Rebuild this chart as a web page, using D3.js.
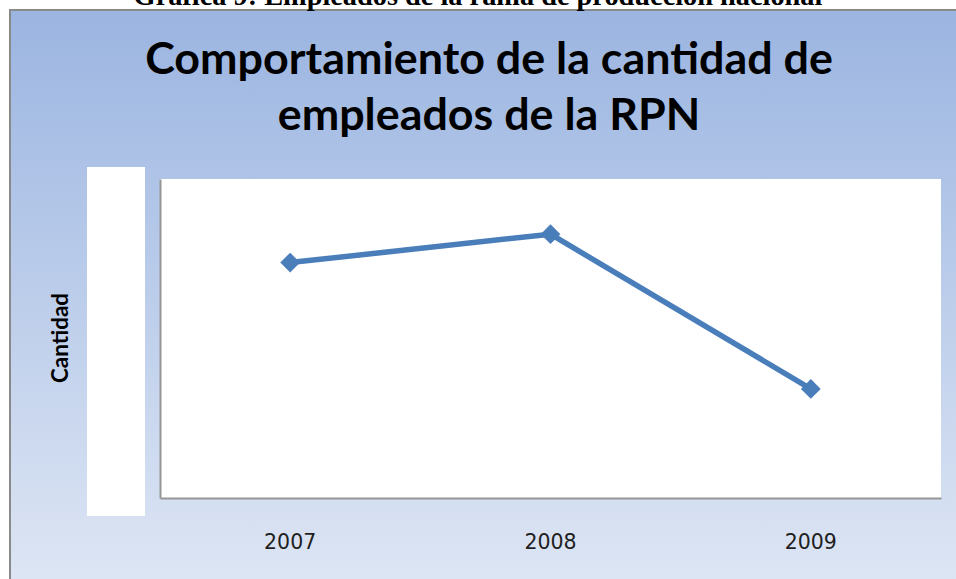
<!DOCTYPE html>
<html lang="es">
<head>
<meta charset="UTF-8">
<title>Comportamiento de la cantidad de empleados de la RPN</title>
<script src="https://cdn.jsdelivr.net/npm/d3@7"></script>
<style>
  html, body { margin: 0; padding: 0; background: #fff; overflow: hidden; }
  svg { display: block; }
</style>
</head>
<body>
<div id="root"></div>
<script>
var width = 956
var height = 579

// datos (el eje y no tiene etiquetas, valores estimados)
var years = ['2007', '2008', '2009']
var empleados = [738, 827, 342]
var yDomain = [0, 1000]

var caption = 'Gráfica 9: Empleados de la rama de producción nacional'
var titleLines = ['Comportamiento de la cantidad de', 'empleados de la RPN']
var yLabel = 'Cantidad'

var svg = d3.select('#root')
    .append('svg')
    .attr('width', width)
    .attr('height', height)

// fondo degradado del area del grafico
var defs = svg.append('defs')
var grad = defs.append('linearGradient')
    .attr('id', 'bg')
    .attr('x1', 0).attr('y1', 0)
    .attr('x2', 0).attr('y2', 1)
grad.append('stop').attr('offset', '0%').attr('stop-color', '#9bb5e1')
grad.append('stop').attr('offset', '100%').attr('stop-color', '#dee6f4')

svg.append('rect')
    .attr('x', 10).attr('y', 10)
    .attr('width', width).attr('height', height)
    .attr('fill', 'url(#bg)')
    .attr('stroke', '#8a8a8a')
    .attr('stroke-width', 2)

// fit a text to a target width by changing its font size
function fit(sel, target) {
    var w = sel.node().getComputedTextLength()
    var fs = parseFloat(sel.attr('font-size'))
    sel.attr('font-size', fs * target / w)
}

// pie de grafica (cortado arriba, como en la imagen)
var cap = svg.append('text')
    .attr('x', 478).attr('y', 5)
    .attr('text-anchor', 'middle')
    .attr('font-family', 'Liberation Serif, Times New Roman, serif')
    .attr('font-weight', 'bold')
    .attr('font-size', 21)
    .attr('fill', '#000')
    .text(caption)
fit(cap, 689)

// titulo
var t1 = svg.append('text')
    .attr('x', 489).attr('y', 74)
    .attr('text-anchor', 'middle')
    .attr('font-family', 'Lato, sans-serif')
    .attr('font-weight', 'bold')
    .attr('font-size', 40)
    .attr('fill', '#000')
    .text(titleLines[0])
fit(t1, 688)
svg.append('text')
    .attr('x', 489).attr('y', 130)
    .attr('text-anchor', 'middle')
    .attr('font-family', 'Lato, sans-serif')
    .attr('font-weight', 'bold')
    .attr('font-size', t1.attr('font-size'))
    .attr('fill', '#000')
    .text(titleLines[1])

// caja blanca del eje y
svg.append('rect')
    .attr('x', 87).attr('y', 167)
    .attr('width', 58).attr('height', 349)
    .attr('fill', '#fff')

svg.append('text')
    .attr('transform', 'translate(68,338) rotate(-90)')
    .attr('text-anchor', 'middle')
    .attr('font-family', 'Lato, sans-serif')
    .attr('font-weight', 'bold')
    .attr('font-size', 23)
    .attr('textLength', 90)
    .attr('lengthAdjust', 'spacingAndGlyphs')
    .attr('fill', '#000')
    .text(yLabel)

// area de trazado
var plot = { left: 160, top: 179, right: 941, bottom: 498 }

svg.append('rect')
    .attr('x', plot.left).attr('y', plot.top)
    .attr('width', plot.right - plot.left)
    .attr('height', plot.bottom - plot.top)
    .attr('fill', '#fff')

var x = d3.scalePoint()
    .domain(years)
    .range([plot.left, plot.right])
    .padding(0.5)

var y = d3.scaleLinear()
    .domain(yDomain)
    .range([plot.bottom, plot.top])

// ejes (lineas grises, sin marcas)
svg.append('g')
    .attr('transform', 'translate(0,' + plot.bottom + ')')
    .call(d3.axisBottom(x).tickSize(0).tickPadding(0).tickFormat(''))
    .call(function(g) {
        g.select('.domain').attr('stroke', '#959595').attr('stroke-width', 2)
    })
svg.append('g')
    .attr('transform', 'translate(' + plot.left + ',0)')
    .call(d3.axisLeft(y).tickSize(0).tickValues([]))
    .call(function(g) {
        g.select('.domain').attr('stroke', '#959595').attr('stroke-width', 2)
    })

// etiquetas de categorias
svg.selectAll('.xlab')
    .data(years)
    .enter()
    .append('text')
    .attr('class', 'xlab')
    .attr('x', function(d) { return x(d) })
    .attr('y', 549)
    .attr('text-anchor', 'middle')
    .attr('font-family', 'DejaVu Sans, sans-serif')
    .attr('font-size', 20.5)
    .attr('fill', '#1f1f1f')
    .text(function(d) { return d })

// serie
var pts = years.map(function(d, i) { return { year: d, value: empleados[i] } })

var line = d3.line()
    .x(function(d) { return x(d.year) })
    .y(function(d) { return y(d.value) })

svg.append('path')
    .datum(pts)
    .attr('d', line)
    .attr('fill', 'none')
    .attr('stroke', '#4a7ebb')
    .attr('stroke-width', 5.5)
    .attr('stroke-linejoin', 'round')

svg.selectAll('.marker')
    .data(pts)
    .enter()
    .append('path')
    .attr('class', 'marker')
    .attr('transform', function(d) {
        return 'translate(' + x(d.year) + ',' + y(d.value) + ')'
    })
    .attr('d', d3.symbol().type(d3.symbolDiamond2).size(250))
    .attr('fill', '#4a7ebb')
</script>
</body>
</html>
